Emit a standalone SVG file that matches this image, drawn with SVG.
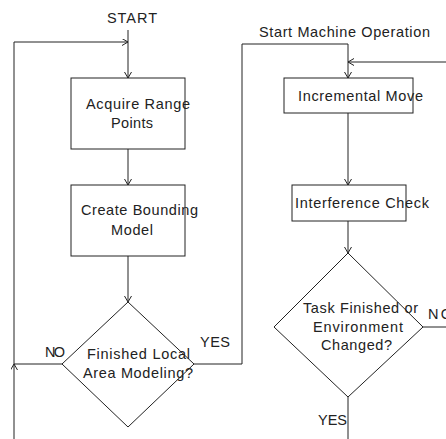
<svg xmlns="http://www.w3.org/2000/svg" width="446" height="439" viewBox="0 0 446 439">
<style>
.box{fill:#fff;stroke:#222;stroke-width:1}
.ln{fill:none;stroke:#222;stroke-width:1}
text{font-family:"Liberation Sans",Arial,sans-serif;font-size:14.5px;fill:#222}
</style>
<defs>
<marker id="ah" markerWidth="8" markerHeight="8" refX="6" refY="3.5" orient="auto" markerUnits="userSpaceOnUse">
<path d="M0,0 L6,3.5 L0,7" fill="none" stroke="#222" stroke-width="1"/>
</marker>
</defs>
<rect width="446" height="439" fill="#fff"/>
<g id="connectors">
<path class="ln" d="M128,30 L128,78" marker-end="url(#ah)"/>
<path class="ln" d="M128,149 L128,185" marker-end="url(#ah)"/>
<path class="ln" d="M128,256 L128,302" marker-end="url(#ah)"/>
<path class="ln" d="M62,364 L14,364 L14,42 L128,42" marker-end="url(#ah)"/>
<path class="ln" d="M14,439 L14,364" marker-end="url(#ah)"/>
<path class="ln" d="M194,364 L242,364 L242,44 L348,44 L348,78" marker-end="url(#ah)"/>
<path class="ln" d="M446,62 L348,62" marker-end="url(#ah)"/>
<path class="ln" d="M348,113 L348,185" marker-end="url(#ah)"/>
<path class="ln" d="M348,221 L348,253" marker-end="url(#ah)"/>
<path class="ln" d="M423,327 L446,327"/>
<path class="ln" d="M348,397 L348,439"/>
<text x="45" y="357" textLength="20" lengthAdjust="spacing">NO</text>
<text x="200" y="347" textLength="30" lengthAdjust="spacing">YES</text>
<text x="428" y="319" textLength="24" lengthAdjust="spacing">NO</text>
<text x="318" y="425" textLength="29" lengthAdjust="spacing">YES</text>
</g>
<g id="start">
<text x="107" y="23" textLength="50" lengthAdjust="spacing">START</text>
</g>
<g id="start-machine">
<text x="259" y="37" textLength="171" lengthAdjust="spacing">Start Machine Operation</text>
</g>
<g id="acquire">
<rect class="box" x="71" y="78" width="114" height="71"/>
<text x="86" y="109" textLength="104" lengthAdjust="spacing">Acquire Range</text>
<text x="111" y="128" textLength="42" lengthAdjust="spacing">Points</text>
</g>
<g id="bounding">
<rect class="box" x="71" y="185" width="114" height="71"/>
<text x="81" y="215" textLength="117" lengthAdjust="spacing">Create Bounding</text>
<text x="111" y="235" textLength="42" lengthAdjust="spacing">Model</text>
</g>
<g id="finished-local">
<polygon class="box" points="128,302 194,364 128,427 62,364"/>
<text x="87" y="359" textLength="103" lengthAdjust="spacing">Finished Local</text>
<text x="83" y="378" textLength="110" lengthAdjust="spacing">Area Modeling?</text>
</g>
<g id="incremental">
<rect class="box" x="284" y="78" width="129" height="35"/>
<text x="298" y="101" textLength="125" lengthAdjust="spacing">Incremental Move</text>
</g>
<g id="interference">
<rect class="box" x="292" y="185" width="114" height="36"/>
<text x="295" y="208" textLength="134" lengthAdjust="spacing">Interference Check</text>
</g>
<g id="task-finished">
<polygon class="box" points="348,253 423,327 348,397 274,327"/>
<text x="303" y="313" textLength="115" lengthAdjust="spacing">Task Finished or</text>
<text x="313" y="332" textLength="90" lengthAdjust="spacing">Environment</text>
<text x="321" y="350" textLength="71" lengthAdjust="spacing">Changed?</text>
</g>
</svg>
